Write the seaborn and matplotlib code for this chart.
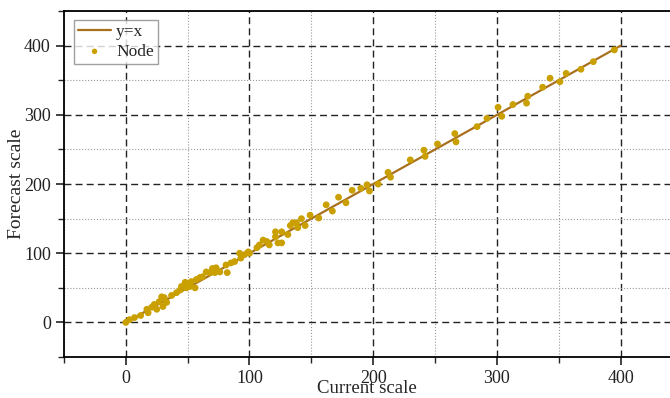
import numpy as np
import pandas as pd
import matplotlib
matplotlib.use('Agg')
import matplotlib.pyplot as plt
from matplotlib.ticker import MultipleLocator
import seaborn as sns

# y=x reference line
line_x = [0, 400]
line_y = [0, 400]

# node points
node_x = [0, 3, 7, 12, 17, 18, 21, 23, 25, 27, 29, 30, 31, 33, 37, 41, 44, 45, 48, 49,
          52, 53, 56, 57, 60, 62, 65, 68, 70, 72, 73, 76, 81, 82, 85, 88, 92, 93, 96, 99,
          100, 106, 108, 111, 114, 116, 121, 121, 123, 126, 126, 131, 133, 135, 138, 139,
          142, 145, 149, 156, 162, 167, 172, 178, 183, 190, 195, 197, 204, 212, 214, 230,
          241, 242, 252, 266, 267, 284, 292, 301, 304, 313, 324, 325, 337, 343, 351, 356,
          368, 378, 395]
node_y = [0, 4, 7, 10, 19, 14, 22, 26, 19, 30, 37, 23, 36, 29, 39, 43, 47, 52, 58, 50,
          52, 59, 50, 62, 65, 66, 73, 72, 78, 72, 79, 73, 83, 72, 86, 88, 100, 93, 98, 102,
          100, 108, 112, 119, 117, 112, 131, 124, 115, 115, 131, 127, 140, 144, 144, 137,
          150, 140, 155, 151, 170, 161, 181, 173, 191, 194, 199, 190, 200, 217, 210, 235,
          249, 240, 258, 273, 261, 283, 295, 311, 298, 315, 317, 327, 340, 353, 348, 360,
          366, 377, 394]

sns.set_style('white')
plt.rcParams['font.family'] = ['Liberation Serif', 'DejaVu Serif']

fig = plt.figure(figsize=(6.7, 3.98), dpi=100)
ax = fig.add_axes([0.0955, 0.103, 0.9045, 0.869])

sns.lineplot(x=line_x, y=line_y, color='#A8701E', lw=1.6, label='y=x', ax=ax, zorder=3)
sns.scatterplot(x=node_x, y=node_y, color='#C9A000', s=24, edgecolor='none',
                label='Node', ax=ax, zorder=4)

ax.set_xlim(-50, 440)
ax.set_ylim(-50, 450)
ax.xaxis.set_major_locator(MultipleLocator(100))
ax.xaxis.set_minor_locator(MultipleLocator(50))
ax.yaxis.set_major_locator(MultipleLocator(100))
ax.yaxis.set_minor_locator(MultipleLocator(50))

ax.grid(which='major', color='#222222', ls=(0, (5, 3)), lw=1.0)
ax.grid(which='minor', color='#999999', ls=':', lw=0.8)
ax.set_axisbelow(True)

for s in ['left', 'bottom', 'top']:
    ax.spines[s].set_color('black')
    ax.spines[s].set_linewidth(1.3)
ax.spines['right'].set_visible(False)

ax.tick_params(which='major', direction='out', length=6, width=1.2, labelsize=13,
               bottom=True, left=True, colors='#222222')
ax.tick_params(which='minor', direction='out', length=4, width=1.0, bottom=True, left=True)

ax.set_xlabel('Current scale', fontsize=13.5, labelpad=-5)
ax.set_ylabel('Forecast scale', fontsize=14, labelpad=-1)

leg = ax.legend(loc='upper left', bbox_to_anchor=(0.016, 0.975), fontsize=12.5,
                frameon=True, fancybox=False, handlelength=1.9, handletextpad=0.3,
                borderpad=0.25, labelspacing=0.2, borderaxespad=0, markerscale=0.8)
leg.get_frame().set_edgecolor('#888888')
leg.get_frame().set_linewidth(1.0)

plt.savefig('out.png', dpi=100)
